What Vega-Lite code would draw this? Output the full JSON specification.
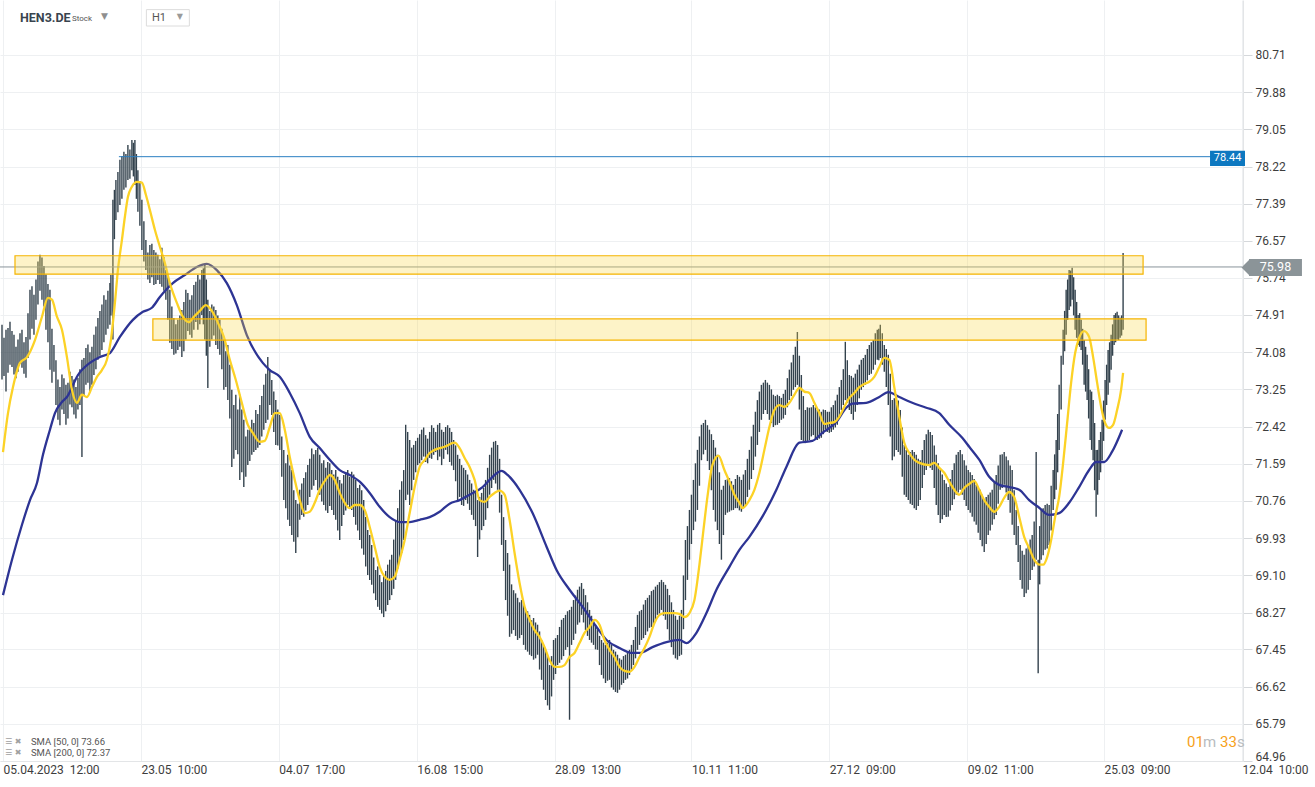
{
"$schema": "https://vega.github.io/schema/vega-lite/v6.json",
"width": 1243, "height": 761,
"autosize": "none",
"padding": {"left": 0, "top": 0, "right": 72, "bottom": 26},
"background": "white",
"config": {"font": "Roboto", "view": {"stroke": null},
  "axis": {"title": null, "grid": true, "gridColor": "#eef0f2", "domainColor": "#e3e5e7", "labelFontSize": 12, "labelColor": "#3d3d3d", "labelOverlap": false, "labelBound": false, "labelFlush": false}},
"datasets": {
"c": [{"i":2,"h":74.69,"l":73.47},{"i":6,"h":74.58,"l":73.2},{"i":10,"h":74.76,"l":73.8},{"i":14,"h":74.47,"l":73.58},{"i":18,"h":74.36,"l":73.64},{"i":22,"h":74.58,"l":73.73},{"i":26,"h":74.42,"l":73.51},{"i":30,"h":75.47,"l":74.36},{"i":34,"h":75.36,"l":74.47},{"i":38,"h":76.1,"l":75.14},{"i":42,"h":76.19,"l":75.25},{"i":46,"h":75.81,"l":74.58},{"i":50,"h":75.47,"l":73.69},{"i":54,"h":74.24,"l":73.64},{"i":58,"h":73.47,"l":72.57},{"i":62,"h":73.58,"l":72.8},{"i":66,"h":73.35,"l":72.46},{"i":70,"h":73.64,"l":72.91},{"i":74,"h":73.47,"l":72.69},{"i":78,"h":73.51,"l":72.8},{"i":82,"h":73.91,"l":71.74},{"i":86,"h":74.17,"l":73.35},{"i":90,"h":74.08,"l":73.19},{"i":94,"h":74.47,"l":73.57},{"i":98,"h":74.84,"l":73.91},{"i":102,"h":75.14,"l":74.13},{"i":106,"h":75.25,"l":74.47},{"i":110,"h":75.62,"l":74.69},{"i":113,"h":77.48,"l":74.36},{"i":116,"h":77.92,"l":77.03},{"i":120,"h":78.37,"l":77.36},{"i":124,"h":78.55,"l":77.7},{"i":128,"h":78.7,"l":77.92},{"i":132,"h":78.81,"l":78.14},{"i":135,"h":78.81,"l":77.81},{"i":138,"h":78.14,"l":77.21},{"i":142,"h":77.48,"l":76.36},{"i":146,"h":76.58,"l":75.91},{"i":150,"h":76.47,"l":75.62},{"i":154,"h":76.36,"l":75.58},{"i":158,"h":76.25,"l":75.69},{"i":162,"h":76.41,"l":75.54},{"i":166,"h":75.91,"l":75.25},{"i":170,"h":75.47,"l":74.29},{"i":174,"h":74.84,"l":74.02},{"i":178,"h":74.8,"l":74.13},{"i":182,"h":75.02,"l":73.97},{"i":186,"h":75.47,"l":74.36},{"i":190,"h":75.25,"l":74.47},{"i":194,"h":75.58,"l":74.58},{"i":198,"h":75.8,"l":74.58},{"i":202,"h":75.91,"l":74.91},{"i":205,"h":76.03,"l":74.36},{"i":208,"h":75.25,"l":73.28},{"i":212,"h":75.14,"l":74.36},{"i":216,"h":75.02,"l":74.24},{"i":220,"h":74.8,"l":74.02},{"i":224,"h":74.36,"l":73.24},{"i":228,"h":74.24,"l":73.01},{"i":232,"h":73.24,"l":71.52},{"i":236,"h":73.13,"l":71.9},{"i":240,"h":73.13,"l":71.23},{"i":244,"h":72.57,"l":71.07},{"i":248,"h":72.35,"l":71.56},{"i":252,"h":72.57,"l":71.79},{"i":256,"h":72.79,"l":71.9},{"i":260,"h":72.9,"l":72.01},{"i":264,"h":73.35,"l":72.35},{"i":268,"h":73.97,"l":72.57},{"i":272,"h":73.46,"l":72.68},{"i":276,"h":73.01,"l":72.01},{"i":280,"h":72.68,"l":71.9},{"i":284,"h":71.9,"l":70.78},{"i":288,"h":71.79,"l":70.34},{"i":292,"h":71.45,"l":70.0},{"i":296,"h":70.78,"l":69.6},{"i":300,"h":71.01,"l":70.34},{"i":304,"h":71.27,"l":70.41},{"i":308,"h":71.56,"l":70.67},{"i":312,"h":71.93,"l":71.01},{"i":316,"h":71.9,"l":71.23},{"i":320,"h":71.79,"l":70.9},{"i":324,"h":71.67,"l":70.67},{"i":328,"h":71.63,"l":70.49},{"i":332,"h":71.45,"l":70.56},{"i":336,"h":71.45,"l":70.34},{"i":340,"h":71.23,"l":69.89},{"i":344,"h":71.34,"l":70.45},{"i":348,"h":71.45,"l":70.67},{"i":352,"h":71.41,"l":70.56},{"i":356,"h":71.23,"l":70.23},{"i":360,"h":71.12,"l":69.89},{"i":364,"h":70.78,"l":69.56},{"i":368,"h":70.11,"l":69.11},{"i":372,"h":69.78,"l":68.89},{"i":376,"h":69.22,"l":68.55},{"i":380,"h":69.11,"l":68.33},{"i":384,"h":69.11,"l":68.17},{"i":388,"h":69.34,"l":68.44},{"i":392,"h":69.56,"l":68.66},{"i":396,"h":70.34,"l":69.0},{"i":400,"h":71.01,"l":69.45},{"i":404,"h":71.45,"l":69.89},{"i":406,"h":72.46,"l":70.78},{"i":410,"h":72.12,"l":70.67},{"i":414,"h":72.01,"l":71.23},{"i":418,"h":72.17,"l":71.56},{"i":422,"h":72.35,"l":71.67},{"i":426,"h":72.23,"l":71.63},{"i":430,"h":72.3,"l":71.72},{"i":434,"h":72.39,"l":71.79},{"i":438,"h":72.46,"l":71.67},{"i":442,"h":72.35,"l":71.56},{"i":446,"h":72.41,"l":71.9},{"i":450,"h":72.39,"l":71.63},{"i":454,"h":72.12,"l":71.45},{"i":458,"h":71.79,"l":70.78},{"i":462,"h":71.56,"l":70.67},{"i":466,"h":71.45,"l":70.78},{"i":470,"h":71.23,"l":70.56},{"i":474,"h":71.01,"l":70.34},{"i":478,"h":70.78,"l":69.51},{"i":482,"h":70.94,"l":70.11},{"i":486,"h":71.23,"l":70.34},{"i":490,"h":71.79,"l":70.9},{"i":494,"h":72.08,"l":71.23},{"i":498,"h":72.01,"l":71.01},{"i":502,"h":70.9,"l":69.78},{"i":506,"h":69.89,"l":68.55},{"i":510,"h":69.34,"l":67.73},{"i":514,"h":68.77,"l":67.88},{"i":518,"h":68.6,"l":67.66},{"i":522,"h":68.55,"l":67.77},{"i":526,"h":68.33,"l":67.44},{"i":530,"h":68.22,"l":67.33},{"i":534,"h":68.15,"l":67.22},{"i":538,"h":68.0,"l":67.33},{"i":542,"h":67.66,"l":66.77},{"i":546,"h":67.44,"l":66.32},{"i":550,"h":67.1,"l":66.1},{"i":554,"h":67.66,"l":66.77},{"i":558,"h":67.77,"l":67.1},{"i":562,"h":68.11,"l":67.22},{"i":566,"h":68.22,"l":67.44},{"i":570,"h":68.33,"l":65.88},{"i":574,"h":68.55,"l":67.66},{"i":578,"h":68.78,"l":68.0},{"i":582,"h":68.93,"l":68.22},{"i":586,"h":68.66,"l":67.88},{"i":590,"h":68.33,"l":67.66},{"i":594,"h":68.11,"l":67.55},{"i":598,"h":67.88,"l":67.44},{"i":602,"h":67.66,"l":66.88},{"i":606,"h":67.55,"l":66.7},{"i":610,"h":67.66,"l":66.77},{"i":614,"h":67.44,"l":66.55},{"i":618,"h":67.33,"l":66.48},{"i":622,"h":67.22,"l":66.66},{"i":626,"h":67.33,"l":66.77},{"i":630,"h":67.44,"l":66.88},{"i":634,"h":67.66,"l":67.1},{"i":638,"h":68.22,"l":67.44},{"i":642,"h":68.33,"l":67.66},{"i":646,"h":68.55,"l":67.77},{"i":650,"h":68.66,"l":67.93},{"i":654,"h":68.78,"l":68.0},{"i":658,"h":68.89,"l":68.22},{"i":662,"h":69.0,"l":68.33},{"i":666,"h":68.89,"l":68.11},{"i":670,"h":68.66,"l":67.66},{"i":674,"h":68.33,"l":67.33},{"i":678,"h":68.11,"l":67.22},{"i":682,"h":68.33,"l":67.33},{"i":686,"h":69.89,"l":68.55},{"i":690,"h":70.56,"l":69.45},{"i":694,"h":71.23,"l":70.11},{"i":698,"h":71.9,"l":70.56},{"i":702,"h":72.46,"l":71.67},{"i":706,"h":72.57,"l":71.9},{"i":710,"h":72.35,"l":71.45},{"i":714,"h":72.12,"l":70.56},{"i":718,"h":71.79,"l":70.11},{"i":722,"h":71.01,"l":69.45},{"i":726,"h":71.23,"l":70.45},{"i":730,"h":71.27,"l":70.52},{"i":734,"h":71.12,"l":70.56},{"i":738,"h":71.34,"l":70.6},{"i":742,"h":71.23,"l":70.52},{"i":746,"h":71.45,"l":70.67},{"i":750,"h":71.9,"l":71.01},{"i":754,"h":72.46,"l":71.45},{"i":758,"h":73.01,"l":72.01},{"i":762,"h":73.35,"l":72.57},{"i":766,"h":73.46,"l":72.79},{"i":770,"h":73.35,"l":72.57},{"i":774,"h":73.13,"l":72.41},{"i":778,"h":73.13,"l":72.46},{"i":782,"h":73.06,"l":72.57},{"i":786,"h":73.24,"l":72.68},{"i":790,"h":73.69,"l":73.01},{"i":794,"h":74.02,"l":73.24},{"i":798,"h":74.53,"l":73.35},{"i":802,"h":73.57,"l":72.12},{"i":806,"h":72.79,"l":72.05},{"i":810,"h":72.84,"l":72.12},{"i":814,"h":72.9,"l":72.23},{"i":818,"h":72.79,"l":72.12},{"i":822,"h":72.75,"l":72.17},{"i":826,"h":72.79,"l":72.35},{"i":830,"h":72.75,"l":72.28},{"i":834,"h":72.9,"l":72.35},{"i":838,"h":73.13,"l":72.46},{"i":842,"h":73.46,"l":72.79},{"i":846,"h":74.31,"l":73.01},{"i":850,"h":73.57,"l":72.79},{"i":854,"h":73.51,"l":72.57},{"i":858,"h":73.69,"l":72.9},{"i":862,"h":73.91,"l":73.24},{"i":866,"h":74.02,"l":73.35},{"i":870,"h":74.24,"l":73.57},{"i":874,"h":74.35,"l":73.69},{"i":878,"h":74.58,"l":73.91},{"i":881,"h":74.69,"l":73.95},{"i":885,"h":74.24,"l":73.64},{"i":889,"h":74.02,"l":72.9},{"i":893,"h":73.01,"l":71.67},{"i":897,"h":73.13,"l":71.9},{"i":901,"h":72.79,"l":71.79},{"i":905,"h":72.01,"l":70.9},{"i":909,"h":71.79,"l":70.78},{"i":913,"h":71.9,"l":70.67},{"i":917,"h":71.79,"l":70.56},{"i":921,"h":71.67,"l":70.78},{"i":925,"h":72.12,"l":71.34},{"i":929,"h":72.35,"l":71.56},{"i":933,"h":72.23,"l":71.45},{"i":937,"h":71.79,"l":70.67},{"i":941,"h":71.45,"l":70.27},{"i":945,"h":71.23,"l":70.45},{"i":949,"h":71.07,"l":70.41},{"i":953,"h":71.45,"l":70.67},{"i":957,"h":71.79,"l":70.9},{"i":961,"h":71.9,"l":71.01},{"i":965,"h":71.67,"l":70.78},{"i":969,"h":71.45,"l":70.56},{"i":973,"h":71.34,"l":70.41},{"i":977,"h":71.12,"l":70.23},{"i":981,"h":71.01,"l":69.89},{"i":985,"h":70.78,"l":69.62},{"i":989,"h":70.9,"l":70.0},{"i":993,"h":71.01,"l":70.23},{"i":997,"h":71.34,"l":70.45},{"i":1001,"h":71.79,"l":71.01},{"i":1005,"h":71.85,"l":71.12},{"i":1009,"h":71.67,"l":70.78},{"i":1013,"h":71.45,"l":70.23},{"i":1017,"h":70.56,"l":69.78},{"i":1021,"h":69.78,"l":69.0},{"i":1025,"h":69.56,"l":68.62},{"i":1029,"h":69.78,"l":68.78},{"i":1033,"h":70.0,"l":69.22},{"i":1037,"h":71.85,"l":69.45},{"i":1039,"h":69.45,"l":66.92},{"i":1042,"h":70.56,"l":69.45},{"i":1046,"h":70.67,"l":69.67},{"i":1050,"h":70.67,"l":69.78},{"i":1054,"h":71.45,"l":70.56},{"i":1057,"h":72.12,"l":71.01},{"i":1060,"h":73.35,"l":71.9},{"i":1064,"h":74.58,"l":73.8},{"i":1067,"h":75.47,"l":74.47},{"i":1070,"h":75.91,"l":75.02},{"i":1073,"h":75.96,"l":75.25},{"i":1076,"h":75.47,"l":74.58},{"i":1079,"h":74.91,"l":74.24},{"i":1082,"h":74.8,"l":74.13},{"i":1085,"h":74.35,"l":73.35},{"i":1088,"h":74.02,"l":73.01},{"i":1091,"h":73.24,"l":72.12},{"i":1094,"h":73.01,"l":71.67},{"i":1097,"h":71.9,"l":70.41},{"i":1100,"h":72.12,"l":71.23},{"i":1103,"h":72.57,"l":71.67},{"i":1106,"h":73.46,"l":72.57},{"i":1109,"h":74.13,"l":73.13},{"i":1112,"h":74.47,"l":73.69},{"i":1115,"h":74.91,"l":74.24},{"i":1118,"h":74.98,"l":74.36},{"i":1121,"h":74.85,"l":74.4},{"i":1124,"h":76.29,"l":74.58},
{"i":4,"h":74.4,"l":73.55},{"i":8,"h":74.62,"l":73.62},{"i":12,"h":74.55,"l":73.75},{"i":16,"h":74.2,"l":73.5},{"i":20,"h":74.5,"l":73.82},{"i":24,"h":74.3,"l":73.6},{"i":28,"h":74.95,"l":73.95},{"i":32,"h":75.55,"l":74.6},{"i":36,"h":75.7,"l":74.8},{"i":40,"h":76.25,"l":75.45},{"i":44,"h":76.0,"l":75.1},{"i":48,"h":75.6,"l":74.3},{"i":52,"h":74.6,"l":73.4},{"i":56,"h":73.9,"l":72.9},{"i":60,"h":73.3,"l":72.45},{"i":64,"h":73.5,"l":72.7},{"i":68,"h":73.4,"l":72.6},{"i":72,"h":73.55,"l":72.85},{"i":76,"h":73.3,"l":72.6},{"i":80,"h":73.7,"l":72.9},{"i":84,"h":73.95,"l":73.1},{"i":88,"h":74.25,"l":73.4},{"i":92,"h":74.2,"l":73.35},{"i":96,"h":74.65,"l":73.7},{"i":100,"h":75.0,"l":74.0},{"i":104,"h":75.35,"l":74.3},{"i":108,"h":75.45,"l":74.6},{"i":111,"h":75.8,"l":74.9},{"i":114.5,"h":77.7,"l":76.6},{"i":118,"h":78.1,"l":77.2},{"i":122,"h":78.45,"l":77.5},{"i":126,"h":78.5,"l":77.75},{"i":130,"h":78.6,"l":77.95},{"i":133.5,"h":78.75,"l":78.0},{"i":136.5,"h":78.5,"l":77.5},{"i":140,"h":77.9,"l":76.9},{"i":144,"h":77.0,"l":76.1},{"i":148,"h":76.3,"l":75.7},{"i":152,"h":76.5,"l":75.75},{"i":156,"h":76.3,"l":75.6},{"i":160,"h":76.15,"l":75.6},{"i":164,"h":76.2,"l":75.45},{"i":168,"h":75.75,"l":74.8},{"i":172,"h":75.1,"l":74.15},{"i":176,"h":74.7,"l":74.05},{"i":180,"h":74.9,"l":74.2},{"i":184,"h":75.2,"l":74.1},{"i":188,"h":75.4,"l":74.55},{"i":192,"h":75.35,"l":74.4},{"i":196,"h":75.65,"l":74.75},{"i":200,"h":75.7,"l":74.7},{"i":203.5,"h":75.95,"l":74.7},{"i":206.5,"h":75.7,"l":74.0},{"i":210,"h":75.0,"l":74.2},{"i":214,"h":75.1,"l":74.45},{"i":218,"h":74.9,"l":74.15},{"i":222,"h":74.6,"l":73.7},{"i":226,"h":74.1,"l":73.3},{"i":230,"h":73.8,"l":72.6},{"i":234,"h":72.9,"l":71.7},{"i":238,"h":72.8,"l":71.8},{"i":242,"h":72.8,"l":71.4},{"i":246,"h":72.2,"l":71.3},{"i":250,"h":72.4,"l":71.65},{"i":254,"h":72.5,"l":71.85},{"i":258,"h":72.7,"l":71.95},{"i":262,"h":73.1,"l":72.2},{"i":266,"h":73.6,"l":72.5},{"i":270,"h":73.7,"l":72.9},{"i":274,"h":73.2,"l":72.3},{"i":278,"h":72.8,"l":72.0},{"i":282,"h":72.2,"l":71.3},{"i":286,"h":71.6,"l":70.6},{"i":290,"h":71.55,"l":70.2},{"i":294,"h":71.0,"l":69.85},{"i":298,"h":70.7,"l":69.95},{"i":302,"h":71.15,"l":70.45},{"i":306,"h":71.4,"l":70.55},{"i":310,"h":71.7,"l":70.85},{"i":314,"h":71.8,"l":71.1},{"i":318,"h":71.95,"l":71.0},{"i":322,"h":71.6,"l":70.75},{"i":326,"h":71.5,"l":70.55},{"i":330,"h":71.6,"l":70.65},{"i":334,"h":71.35,"l":70.45},{"i":338,"h":71.3,"l":70.1},{"i":342,"h":71.15,"l":70.2},{"i":346,"h":71.4,"l":70.55},{"i":350,"h":71.3,"l":70.6},{"i":354,"h":71.35,"l":70.4},{"i":358,"h":71.05,"l":70.1},{"i":362,"h":71.0,"l":69.7},{"i":366,"h":70.4,"l":69.3},{"i":370,"h":70.0,"l":69.0},{"i":374,"h":69.5,"l":68.7},{"i":378,"h":69.3,"l":68.4},{"i":382,"h":68.95,"l":68.25},{"i":386,"h":69.2,"l":68.3},{"i":390,"h":69.45,"l":68.55},{"i":394,"h":69.9,"l":68.8},{"i":398,"h":70.6,"l":69.25},{"i":402,"h":71.2,"l":69.6},{"i":408,"h":72.3,"l":70.9},{"i":412,"h":71.95,"l":71.0},{"i":416,"h":72.1,"l":71.4},{"i":420,"h":72.25,"l":71.6},{"i":424,"h":72.4,"l":71.75},{"i":428,"h":72.15,"l":71.6},{"i":432,"h":72.45,"l":71.7},{"i":436,"h":72.3,"l":71.85},{"i":440,"h":72.5,"l":71.75},{"i":444,"h":72.3,"l":71.7},{"i":448,"h":72.45,"l":71.8},{"i":452,"h":72.3,"l":71.55},{"i":456,"h":72.0,"l":71.2},{"i":460,"h":71.7,"l":70.85},{"i":464,"h":71.5,"l":70.65},{"i":468,"h":71.35,"l":70.7},{"i":472,"h":71.15,"l":70.45},{"i":476,"h":70.95,"l":70.2},{"i":480,"h":70.85,"l":69.9},{"i":484,"h":71.05,"l":70.2},{"i":488,"h":71.5,"l":70.6},{"i":492,"h":71.95,"l":71.05},{"i":496,"h":72.1,"l":71.15},{"i":500,"h":71.7,"l":70.5},{"i":504,"h":70.4,"l":69.2},{"i":508,"h":69.6,"l":68.2},{"i":512,"h":68.9,"l":67.8},{"i":516,"h":68.7,"l":67.75},{"i":520,"h":68.5,"l":67.7},{"i":524,"h":68.45,"l":67.55},{"i":528,"h":68.3,"l":67.4},{"i":532,"h":68.1,"l":67.3},{"i":536,"h":68.05,"l":67.25},{"i":540,"h":67.85,"l":67.0},{"i":544,"h":67.55,"l":66.55},{"i":548,"h":67.3,"l":66.2},{"i":552,"h":67.3,"l":66.4},{"i":556,"h":67.7,"l":66.9},{"i":560,"h":67.95,"l":67.15},{"i":564,"h":68.15,"l":67.3},{"i":568,"h":68.3,"l":67.5},{"i":572,"h":68.4,"l":67.55},{"i":576,"h":68.65,"l":67.8},{"i":580,"h":68.85,"l":68.05},{"i":584,"h":68.8,"l":68.05},{"i":588,"h":68.5,"l":67.75},{"i":592,"h":68.2,"l":67.6},{"i":596,"h":68.0,"l":67.45},{"i":600,"h":67.75,"l":67.1},{"i":604,"h":67.6,"l":66.8},{"i":608,"h":67.6,"l":66.75},{"i":612,"h":67.55,"l":66.6},{"i":616,"h":67.4,"l":66.5},{"i":620,"h":67.25,"l":66.55},{"i":624,"h":67.3,"l":66.7},{"i":628,"h":67.4,"l":66.8},{"i":632,"h":67.55,"l":67.0},{"i":636,"h":67.95,"l":67.25},{"i":640,"h":68.3,"l":67.55},{"i":644,"h":68.45,"l":67.7},{"i":648,"h":68.6,"l":67.85},{"i":652,"h":68.75,"l":67.95},{"i":656,"h":68.85,"l":68.1},{"i":660,"h":68.95,"l":68.25},{"i":664,"h":68.95,"l":68.2},{"i":668,"h":68.8,"l":67.9},{"i":672,"h":68.5,"l":67.5},{"i":676,"h":68.2,"l":67.25},{"i":680,"h":68.2,"l":67.3},{"i":684,"h":69.1,"l":67.9},{"i":688,"h":70.2,"l":69.0},{"i":692,"h":70.9,"l":69.8},{"i":696,"h":71.6,"l":70.3},{"i":700,"h":72.2,"l":71.1},{"i":704,"h":72.5,"l":71.8},{"i":708,"h":72.45,"l":71.65},{"i":712,"h":72.25,"l":71.0},{"i":716,"h":71.95,"l":70.3},{"i":720,"h":71.4,"l":69.8},{"i":724,"h":71.1,"l":70.0},{"i":728,"h":71.25,"l":70.5},{"i":732,"h":71.2,"l":70.55},{"i":736,"h":71.25,"l":70.6},{"i":740,"h":71.3,"l":70.55},{"i":744,"h":71.35,"l":70.6},{"i":748,"h":71.7,"l":70.85},{"i":752,"h":72.2,"l":71.25},{"i":756,"h":72.75,"l":71.75},{"i":760,"h":73.2,"l":72.3},{"i":764,"h":73.4,"l":72.7},{"i":768,"h":73.4,"l":72.7},{"i":772,"h":73.25,"l":72.5},{"i":776,"h":73.1,"l":72.45},{"i":780,"h":73.1,"l":72.5},{"i":784,"h":73.15,"l":72.6},{"i":788,"h":73.5,"l":72.85},{"i":792,"h":73.85,"l":73.1},{"i":796,"h":74.2,"l":73.3},{"i":800,"h":74.0,"l":72.8},{"i":804,"h":73.1,"l":72.1},{"i":808,"h":72.85,"l":72.1},{"i":812,"h":72.85,"l":72.2},{"i":816,"h":72.85,"l":72.15},{"i":820,"h":72.8,"l":72.15},{"i":824,"h":72.8,"l":72.25},{"i":828,"h":72.75,"l":72.3},{"i":832,"h":72.85,"l":72.3},{"i":836,"h":73.0,"l":72.4},{"i":840,"h":73.3,"l":72.6},{"i":844,"h":73.7,"l":72.9},{"i":848,"h":73.9,"l":72.95},{"i":852,"h":73.55,"l":72.7},{"i":856,"h":73.6,"l":72.75},{"i":860,"h":73.8,"l":73.05},{"i":864,"h":73.95,"l":73.3},{"i":868,"h":74.15,"l":73.45},{"i":872,"h":74.3,"l":73.6},{"i":876,"h":74.5,"l":73.8},{"i":879.5,"h":74.6,"l":73.9},{"i":883,"h":74.5,"l":73.8},{"i":887,"h":74.15,"l":73.3},{"i":891,"h":73.6,"l":72.2},{"i":895,"h":73.05,"l":71.75},{"i":899,"h":73.0,"l":71.85},{"i":903,"h":72.4,"l":71.3},{"i":907,"h":71.9,"l":70.85},{"i":911,"h":71.85,"l":70.7},{"i":915,"h":71.85,"l":70.6},{"i":919,"h":71.7,"l":70.65},{"i":923,"h":71.9,"l":71.05},{"i":927,"h":72.25,"l":71.45},{"i":931,"h":72.3,"l":71.5},{"i":935,"h":72.0,"l":71.05},{"i":939,"h":71.6,"l":70.45},{"i":943,"h":71.35,"l":70.35},{"i":947,"h":71.15,"l":70.4},{"i":951,"h":71.25,"l":70.55},{"i":955,"h":71.6,"l":70.8},{"i":959,"h":71.85,"l":70.95},{"i":963,"h":71.8,"l":70.9},{"i":967,"h":71.55,"l":70.65},{"i":971,"h":71.4,"l":70.5},{"i":975,"h":71.25,"l":70.3},{"i":979,"h":71.05,"l":70.05},{"i":983,"h":70.9,"l":69.75},{"i":987,"h":70.85,"l":69.8},{"i":991,"h":70.95,"l":70.1},{"i":995,"h":71.2,"l":70.35},{"i":999,"h":71.55,"l":70.7},{"i":1003,"h":71.8,"l":71.05},{"i":1007,"h":71.75,"l":70.95},{"i":1011,"h":71.55,"l":70.5},{"i":1015,"h":71.0,"l":70.0},{"i":1019,"h":70.2,"l":69.4},{"i":1023,"h":69.65,"l":68.8},{"i":1027,"h":69.7,"l":68.7},{"i":1031,"h":69.9,"l":69.0},{"i":1035,"h":70.3,"l":69.3},{"i":1040.5,"h":70.2,"l":68.9},{"i":1044,"h":70.6,"l":69.55},{"i":1048,"h":70.7,"l":69.7},{"i":1052,"h":71.1,"l":70.1},{"i":1055.5,"h":71.8,"l":70.8},{"i":1058.5,"h":72.7,"l":71.4},{"i":1062,"h":74.0,"l":72.8},{"i":1065.5,"h":75.0,"l":74.1},{"i":1068.5,"h":75.7,"l":74.8},{"i":1071.5,"h":75.9,"l":75.1},{"i":1074.5,"h":75.75,"l":74.9},{"i":1077.5,"h":75.2,"l":74.4},{"i":1080.5,"h":74.95,"l":74.2},{"i":1083.5,"h":74.6,"l":73.8},{"i":1086.5,"h":74.2,"l":73.2},{"i":1089.5,"h":73.7,"l":72.6},{"i":1092.5,"h":73.2,"l":71.9},{"i":1095.5,"h":72.5,"l":71.0},{"i":1098.5,"h":71.9,"l":70.9},{"i":1101.5,"h":72.3,"l":71.4},{"i":1104.5,"h":73.0,"l":72.1},{"i":1107.5,"h":73.8,"l":72.9},{"i":1110.5,"h":74.3,"l":73.4},{"i":1113.5,"h":74.7,"l":74.0},{"i":1116.5,"h":74.95,"l":74.3},{"i":1119.5,"h":74.9,"l":74.35},{"i":1122.5,"h":74.9,"l":74.45}],
"s50": [{"i":3,"v":71.85},{"i":8,"v":72.72},{"i":13,"v":73.3},{"i":20,"v":73.84},{"i":27,"v":73.97},{"i":35,"v":74.35},{"i":42,"v":74.87},{"i":48,"v":75.29},{"i":52,"v":75.25},{"i":57,"v":74.87},{"i":62,"v":74.58},{"i":67,"v":73.97},{"i":72,"v":73.24},{"i":77,"v":72.95},{"i":82,"v":73.13},{"i":87,"v":73.08},{"i":92,"v":73.3},{"i":97,"v":73.53},{"i":102,"v":73.68},{"i":107,"v":73.91},{"i":111,"v":74.35},{"i":115,"v":75.18},{"i":118,"v":75.91},{"i":122,"v":76.58},{"i":125,"v":77.1},{"i":128,"v":77.54},{"i":132,"v":77.77},{"i":137,"v":77.88},{"i":142,"v":77.86},{"i":146,"v":77.59},{"i":150,"v":77.25},{"i":155,"v":76.81},{"i":160,"v":76.43},{"i":165,"v":76.07},{"i":170,"v":75.62},{"i":177,"v":75.18},{"i":183,"v":74.87},{"i":189,"v":74.75},{"i":194,"v":74.87},{"i":200,"v":75.0},{"i":206,"v":75.13},{"i":212,"v":75.0},{"i":219,"v":74.69},{"i":224,"v":74.42},{"i":230,"v":73.91},{"i":236,"v":73.46},{"i":242,"v":72.95},{"i":248,"v":72.46},{"i":253,"v":72.28},{"i":260,"v":72.08},{"i":265,"v":72.1},{"i":270,"v":72.41},{"i":275,"v":72.72},{"i":280,"v":72.72},{"i":285,"v":72.35},{"i":290,"v":71.74},{"i":295,"v":71.23},{"i":300,"v":70.78},{"i":305,"v":70.49},{"i":310,"v":70.52},{"i":315,"v":70.72},{"i":320,"v":71.01},{"i":327,"v":71.27},{"i":330,"v":71.34},{"i":335,"v":71.23},{"i":340,"v":70.94},{"i":345,"v":70.72},{"i":350,"v":70.6},{"i":355,"v":70.67},{"i":360,"v":70.67},{"i":365,"v":70.56},{"i":370,"v":70.18},{"i":375,"v":69.74},{"i":380,"v":69.29},{"i":385,"v":69.07},{"i":390,"v":69.0},{"i":395,"v":69.07},{"i":400,"v":69.45},{"i":405,"v":69.89},{"i":410,"v":70.49},{"i":415,"v":71.07},{"i":420,"v":71.52},{"i":425,"v":71.67},{"i":430,"v":71.83},{"i":435,"v":71.9},{"i":445,"v":71.97},{"i":455,"v":72.06},{"i":460,"v":71.94},{"i":465,"v":71.72},{"i":470,"v":71.52},{"i":475,"v":71.23},{"i":480,"v":70.78},{"i":485,"v":70.74},{"i":490,"v":70.85},{"i":495,"v":70.94},{"i":500,"v":70.99},{"i":505,"v":70.9},{"i":510,"v":70.34},{"i":515,"v":69.6},{"i":520,"v":68.93},{"i":525,"v":68.4},{"i":530,"v":68.11},{"i":535,"v":67.88},{"i":540,"v":67.73},{"i":545,"v":67.5},{"i":550,"v":67.21},{"i":555,"v":67.06},{"i":560,"v":67.06},{"i":565,"v":67.1},{"i":570,"v":67.28},{"i":575,"v":67.37},{"i":580,"v":67.59},{"i":585,"v":67.82},{"i":590,"v":67.95},{"i":595,"v":68.11},{"i":600,"v":68.0},{"i":605,"v":67.66},{"i":610,"v":67.44},{"i":615,"v":67.28},{"i":620,"v":67.06},{"i":625,"v":66.97},{"i":630,"v":66.95},{"i":635,"v":67.06},{"i":640,"v":67.28},{"i":645,"v":67.48},{"i":650,"v":67.73},{"i":655,"v":68.04},{"i":660,"v":68.22},{"i":665,"v":68.26},{"i":675,"v":68.26},{"i":680,"v":68.24},{"i":685,"v":68.17},{"i":690,"v":68.26},{"i":695,"v":68.55},{"i":700,"v":69.34},{"i":704,"v":70.11},{"i":708,"v":70.85},{"i":713,"v":71.56},{"i":719,"v":71.77},{"i":725,"v":71.45},{"i":730,"v":71.19},{"i":735,"v":70.9},{"i":740,"v":70.72},{"i":743,"v":70.6},{"i":750,"v":70.78},{"i":755,"v":71.01},{"i":760,"v":71.39},{"i":765,"v":71.9},{"i":770,"v":72.41},{"i":775,"v":72.79},{"i":780,"v":72.9},{"i":785,"v":72.86},{"i":790,"v":72.95},{"i":795,"v":73.13},{"i":800,"v":73.28},{"i":805,"v":73.2},{"i":810,"v":73.17},{"i":815,"v":72.95},{"i":820,"v":72.72},{"i":825,"v":72.48},{"i":830,"v":72.5},{"i":835,"v":72.52},{"i":840,"v":72.64},{"i":845,"v":72.86},{"i":850,"v":73.06},{"i":855,"v":73.17},{"i":860,"v":73.3},{"i":865,"v":73.37},{"i":870,"v":73.42},{"i":875,"v":73.53},{"i":880,"v":73.75},{"i":885,"v":73.95},{"i":890,"v":73.91},{"i":895,"v":73.3},{"i":900,"v":72.64},{"i":905,"v":72.06},{"i":910,"v":71.83},{"i":915,"v":71.68},{"i":920,"v":71.61},{"i":930,"v":71.56},{"i":935,"v":71.61},{"i":940,"v":71.5},{"i":945,"v":71.39},{"i":950,"v":71.19},{"i":955,"v":71.01},{"i":960,"v":70.9},{"i":965,"v":71.05},{"i":970,"v":71.14},{"i":975,"v":71.21},{"i":980,"v":71.01},{"i":985,"v":70.78},{"i":990,"v":70.63},{"i":995,"v":70.52},{"i":1000,"v":70.63},{"i":1005,"v":70.83},{"i":1010,"v":70.96},{"i":1015,"v":70.85},{"i":1020,"v":70.41},{"i":1025,"v":69.96},{"i":1030,"v":69.71},{"i":1035,"v":69.45},{"i":1040,"v":69.34},{"i":1044,"v":69.34},{"i":1048,"v":69.51},{"i":1052,"v":69.89},{"i":1056,"v":70.41},{"i":1060,"v":70.85},{"i":1064,"v":71.61},{"i":1068,"v":72.5},{"i":1072,"v":73.4},{"i":1076,"v":74.06},{"i":1080,"v":74.4},{"i":1085,"v":74.55},{"i":1090,"v":74.42},{"i":1094,"v":73.97},{"i":1098,"v":73.4},{"i":1102,"v":72.86},{"i":1106,"v":72.5},{"i":1110,"v":72.39},{"i":1114,"v":72.46},{"i":1118,"v":72.79},{"i":1122,"v":73.24},{"i":1124,"v":73.62}],
"s200": [{"i":3,"v":68.66},{"i":12,"v":69.45},{"i":22,"v":70.23},{"i":30,"v":70.78},{"i":37,"v":71.16},{"i":43,"v":71.79},{"i":50,"v":72.35},{"i":55,"v":72.72},{"i":62,"v":72.97},{"i":67,"v":73.08},{"i":78,"v":73.57},{"i":90,"v":73.84},{"i":100,"v":73.97},{"i":110,"v":74.06},{"i":120,"v":74.42},{"i":133,"v":74.8},{"i":143,"v":74.98},{"i":152,"v":75.07},{"i":160,"v":75.31},{"i":173,"v":75.62},{"i":185,"v":75.8},{"i":197,"v":75.98},{"i":207,"v":76.05},{"i":217,"v":75.91},{"i":227,"v":75.62},{"i":237,"v":75.13},{"i":247,"v":74.46},{"i":263,"v":73.84},{"i":270,"v":73.68},{"i":280,"v":73.53},{"i":290,"v":73.17},{"i":300,"v":72.72},{"i":310,"v":72.19},{"i":320,"v":71.94},{"i":330,"v":71.68},{"i":340,"v":71.45},{"i":350,"v":71.34},{"i":360,"v":71.19},{"i":370,"v":70.94},{"i":380,"v":70.63},{"i":390,"v":70.4},{"i":400,"v":70.29},{"i":410,"v":70.29},{"i":420,"v":70.34},{"i":430,"v":70.4},{"i":440,"v":70.52},{"i":450,"v":70.7},{"i":460,"v":70.78},{"i":470,"v":70.9},{"i":483,"v":71.07},{"i":493,"v":71.3},{"i":502,"v":71.43},{"i":508,"v":71.34},{"i":520,"v":71.01},{"i":533,"v":70.49},{"i":547,"v":69.74},{"i":557,"v":69.22},{"i":570,"v":68.78},{"i":583,"v":68.4},{"i":597,"v":67.95},{"i":607,"v":67.66},{"i":620,"v":67.48},{"i":633,"v":67.37},{"i":640,"v":67.37},{"i":653,"v":67.5},{"i":667,"v":67.61},{"i":680,"v":67.66},{"i":687,"v":67.59},{"i":697,"v":67.82},{"i":707,"v":68.26},{"i":717,"v":68.78},{"i":730,"v":69.29},{"i":740,"v":69.67},{"i":750,"v":69.96},{"i":763,"v":70.41},{"i":777,"v":71.01},{"i":787,"v":71.52},{"i":800,"v":72.06},{"i":813,"v":72.1},{"i":823,"v":72.28},{"i":837,"v":72.52},{"i":847,"v":72.84},{"i":853,"v":72.93},{"i":867,"v":72.95},{"i":880,"v":73.08},{"i":889,"v":73.19},{"i":900,"v":73.08},{"i":913,"v":72.95},{"i":927,"v":72.84},{"i":940,"v":72.72},{"i":950,"v":72.46},{"i":963,"v":72.17},{"i":970,"v":71.97},{"i":980,"v":71.68},{"i":990,"v":71.3},{"i":1000,"v":71.12},{"i":1010,"v":71.07},{"i":1020,"v":71.01},{"i":1030,"v":70.78},{"i":1040,"v":70.61},{"i":1050,"v":70.45},{"i":1060,"v":70.49},{"i":1070,"v":70.72},{"i":1080,"v":71.07},{"i":1090,"v":71.45},{"i":1097,"v":71.63},{"i":1105,"v":71.63},{"i":1113,"v":71.86},{"i":1123,"v":72.35}],
"zones": [{"a":15,"b":1144,"top":76.23,"bot":75.82},{"a":153,"b":1147,"top":74.82,"bot":74.35}],
"levels": [{"name":"resistance","p":78.44,"a":119,"b":1212},{"name":"last","p":75.98,"a":0,"b":1243}]
},
"encoding": {
  "x": {"type":"quantitative","scale":{"domain":[0,1244],"nice":false,"zero":false},
   "axis":{"orient":"bottom","values":[3,141,279,417,555,692,830,968,1105,1243],
    "labelExpr":"['05.04.2023\u00a0\u00a012:00','23.05\u00a0\u00a010:00','04.07\u00a0\u00a017:00','16.08\u00a0\u00a015:00','28.09\u00a0\u00a013:00','10.11\u00a0\u00a011:00','27.12\u00a0\u00a009:00','09.02\u00a0\u00a011:00','25.03\u00a0\u00a009:00','12.04\u00a0\u00a010:00'][round((datum.value-3)/137.78)]",
    "labelAlign":"left","labelBaseline":"top","labelPadding":3,"tickSize":0}},
  "y": {"type":"quantitative","scale":{"domain":[64.96,81.935],"nice":false,"zero":false},
   "axis":{"orient":"right","values":[64.96,65.79,66.62,67.45,68.27,69.1,69.93,70.76,71.59,72.42,73.25,74.08,74.91,75.74,76.57,77.39,78.22,79.05,79.88,80.71],
    "format":".2f","tickSize":9,"tickColor":"#d5d8db","labelPadding":3,
    "labelOffset":{"condition":{"test":"datum.value < 65","value":-5},"value":0}}}
},
"layer": [
{"data":{"name":"c"},"mark":{"type":"rule","color":"#33424d","strokeWidth":1.4},
 "encoding":{"x":{"field":"i"},"y":{"field":"h"},"y2":{"field":"l"}}},
{"data":{"name":"s200"},"mark":{"type":"line","color":"#2d3494","strokeWidth":2.3,"interpolate":"monotone"},
 "encoding":{"x":{"field":"i"},"y":{"field":"v"}}},
{"data":{"name":"s50"},"mark":{"type":"line","color":"#fcd226","strokeWidth":2.3,"interpolate":"monotone"},
 "encoding":{"x":{"field":"i"},"y":{"field":"v"}}},
{"data":{"name":"levels"},"mark":{"type":"rule","strokeWidth":1},
 "encoding":{"x":{"field":"a"},"x2":{"field":"b"},"y":{"field":"p"},
  "color":{"field":"name","type":"nominal","scale":{"domain":["resistance","last"],"range":["#2b7fc2","#89949a"]},"legend":null}}},
{"data":{"name":"zones"},"mark":{"type":"rect","fill":"#f9d84a","fillOpacity":0.3,"stroke":"#f5b400","strokeWidth":1.2},
 "encoding":{"x":{"field":"a"},"x2":{"field":"b"},"y":{"field":"top"},"y2":{"field":"bot"}}},
{"data":{"values":[{"x":1211,"x2":1246,"y":78.57,"y2":78.23}]},"mark":{"type":"rect","fill":"#0d78c0"},
 "encoding":{"x":{"field":"x"},"x2":{"field":"x2"},"y":{"field":"y"},"y2":{"field":"y2"}}},
{"data":{"values":[{"x":1228.5,"y":78.4,"t":"78.44"}]},"mark":{"type":"text","fontSize":11,"color":"white","align":"center","baseline":"middle"},
 "encoding":{"x":{"field":"x"},"y":{"field":"y"},"text":{"field":"t"}}},
{"data":{"values":[{"x":1250,"x2":1303,"y":76.16,"y2":75.78}]},"mark":{"type":"rect","fill":"#8b9498"},
 "encoding":{"x":{"field":"x"},"x2":{"field":"x2"},"y":{"field":"y"},"y2":{"field":"y2"}}},
{"data":{"values":[{"x":1246.5,"y":75.97}]},"mark":{"type":"point","shape":"M -1 0 L 1 -2 L 1 2 Z","size":64,"filled":true,"color":"#8b9498","opacity":1,"strokeWidth":0},
 "encoding":{"x":{"field":"x"},"y":{"field":"y"}}},
{"data":{"values":[{"x":1276.5,"y":75.97,"t":"75.98"}]},"mark":{"type":"text","fontSize":12.5,"color":"white","align":"center","baseline":"middle"},
 "encoding":{"x":{"field":"x"},"y":{"field":"y"},"text":{"field":"t"}}},
{"data":{"values":[{"x":146.5,"x2":189.5,"y":81.72,"y2":81.355}]},"mark":{"type":"rect","fill":"white","stroke":"#dcdcdc","strokeWidth":1},
 "encoding":{"x":{"field":"x"},"x2":{"field":"x2"},"y":{"field":"y"},"y2":{"field":"y2"}}},
{"data":{"values":[{"x":20,"y":81.53,"t":"HEN3.DE"}]},"mark":{"type":"text","fontSize":12.5,"fontWeight":"bold","color":"#39444e","align":"left","baseline":"middle"},
 "encoding":{"x":{"field":"x"},"y":{"field":"y"},"text":{"field":"t"}}},
{"data":{"values":[{"x":72,"y":81.51,"t":"Stock"}]},"mark":{"type":"text","fontSize":8,"color":"#555","align":"left","baseline":"middle"},
 "encoding":{"x":{"field":"x"},"y":{"field":"y"},"text":{"field":"t"}}},
{"data":{"values":[{"x":101,"y":81.57,"t":"▼"}]},"mark":{"type":"text","font":"DejaVu Sans","fontSize":9,"color":"#8f8f8f","align":"left","baseline":"middle"},
 "encoding":{"x":{"field":"x"},"y":{"field":"y"},"text":{"field":"t"}}},
{"data":{"values":[{"x":177,"y":81.56,"t":"▼"}]},"mark":{"type":"text","font":"DejaVu Sans","fontSize":8,"color":"#9a9a9a","align":"left","baseline":"middle"},
 "encoding":{"x":{"field":"x"},"y":{"field":"y"},"text":{"field":"t"}}},
{"data":{"values":[{"x":152,"y":81.53,"t":"H1"}]},"mark":{"type":"text","fontSize":11,"color":"#555","align":"left","baseline":"middle"},
 "encoding":{"x":{"field":"x"},"y":{"field":"y"},"text":{"field":"t"}}},
{"data":{"values":[{"x":5,"y":65.38,"t":"☰ ✖"},{"x":5,"y":65.14,"t":"☰ ✖"}]},"mark":{"type":"text","font":"DejaVu Sans","fontSize":8,"color":"#a0a0a0","align":"left","baseline":"middle"},
 "encoding":{"x":{"field":"x"},"y":{"field":"y"},"text":{"field":"t"}}},
{"data":{"values":[{"x":31,"y":65.38,"t":"SMA [50,  0] 73.66"},{"x":31,"y":65.14,"t":"SMA [200,  0] 72.37"}]},"mark":{"type":"text","fontSize":9.5,"color":"#555","align":"left","baseline":"middle"},
 "encoding":{"x":{"field":"x"},"y":{"field":"y"},"text":{"field":"t"}}},
{"data":{"values":[{"x":1188,"y":65.38,"t":"01"},{"x":1221,"y":65.38,"t":"33"}]},"mark":{"type":"text","fontSize":15,"color":"#f7a11a","align":"left","baseline":"middle"},
 "encoding":{"x":{"field":"x"},"y":{"field":"y"},"text":{"field":"t"}}},
{"data":{"values":[{"x":1204,"y":65.38,"t":"m"},{"x":1238,"y":65.38,"t":"s"}]},"mark":{"type":"text","fontSize":15,"color":"#b8bcbf","align":"left","baseline":"middle"},
 "encoding":{"x":{"field":"x"},"y":{"field":"y"},"text":{"field":"t"}}}
]
}
